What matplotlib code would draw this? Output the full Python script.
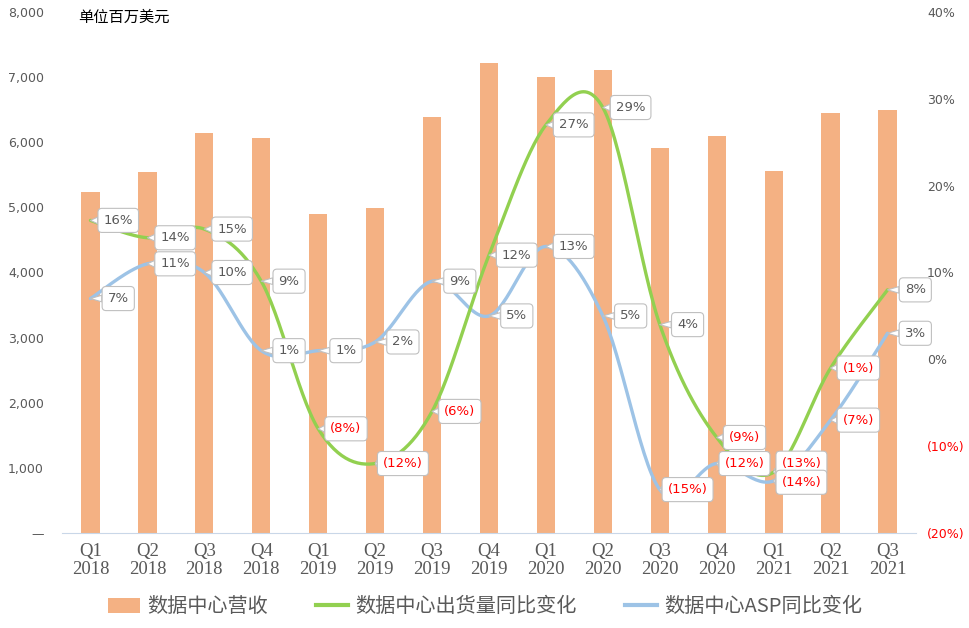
import numpy as np
import matplotlib
matplotlib.use("Agg")
import matplotlib.pyplot as plt
from matplotlib.patches import Patch
from matplotlib.lines import Line2D

quarters = ["Q1\n2018", "Q2\n2018", "Q3\n2018", "Q4\n2018",
            "Q1\n2019", "Q2\n2019", "Q3\n2019", "Q4\n2019",
            "Q1\n2020", "Q2\n2020", "Q3\n2020", "Q4\n2020",
            "Q1\n2021", "Q2\n2021", "Q3\n2021"]
revenue = [5234, 5549, 6138, 6069, 4903, 4983, 6385, 7213,
           6995, 7115, 5906, 6100, 5560, 6452, 6495]
shipment_yoy = [16, 14, 15, 9, -8, -12, -6, 12, 27, 29, 4, -9, -13, -1, 8]
asp_yoy = [7, 11, 10, 1, 1, 2, 9, 5, 13, 5, -15, -12, -14, -7, 3]

left_ticks = [0, 1000, 2000, 3000, 4000, 5000, 6000, 7000, 8000]
right_ticks = [-20, -10, 0, 10, 20, 30, 40]

BAR = "#F4B183"
GREEN = "#92D050"
BLUE = "#9DC3E6"
GRAY = "#595959"
RED = "#FF0000"

CJK = ["Noto Sans CJK SC", "DejaVu Sans"]


def smooth(y, n=30):
    """Catmull-Rom smoothing (like Excel smoothed lines)."""
    y = np.asarray(y, float)
    x = np.arange(len(y), dtype=float)
    px = np.concatenate([[x[0]], x, [x[-1]]])
    py = np.concatenate([[y[0]], y, [y[-1]]])
    xs, ys = [], []
    for i in range(1, len(px) - 2):
        p0x, p1x, p2x, p3x = px[i - 1], px[i], px[i + 1], px[i + 2]
        p0y, p1y, p2y, p3y = py[i - 1], py[i], py[i + 1], py[i + 2]
        c1x, c1y = p1x + (p2x - p0x) / 6, p1y + (p2y - p0y) / 6
        c2x, c2y = p2x - (p3x - p1x) / 6, p2y - (p3y - p1y) / 6
        t = np.linspace(0, 1, n)
        bx = (1 - t) ** 3 * p1x + 3 * (1 - t) ** 2 * t * c1x + 3 * (1 - t) * t ** 2 * c2x + t ** 3 * p2x
        by = (1 - t) ** 3 * p1y + 3 * (1 - t) ** 2 * t * c1y + 3 * (1 - t) * t ** 2 * c2y + t ** 3 * p2y
        xs.append(bx)
        ys.append(by)
    return np.concatenate(xs), np.concatenate(ys)


def pct(v):
    return f"({abs(v)}%)" if v < 0 else f"{v}%"


fig = plt.figure(figsize=(9.7, 6.28), dpi=100)
ax = fig.add_axes([62 / 970, 1 - 533 / 628, (916 - 62) / 970, (533 - 12) / 628])
ax2 = ax.twinx()

x = np.arange(len(quarters))
ax.bar(x, revenue, width=0.32, color=BAR, zorder=1)
ax.set_xlim(-0.5, len(quarters) - 0.5)
ax.set_ylim(0, 8000)
ax.set_yticks(left_ticks)
ax.set_yticklabels(["—" if v == 0 else f"{v:,}" for v in left_ticks],
                   color=GRAY, fontsize=9)
ax.set_xticks(x)
ax.set_xticklabels(quarters, family="Liberation Serif", fontsize=13.5,
                   color=GRAY, linespacing=1.1)
ax.tick_params(axis="both", length=0)
ax.tick_params(axis="y", pad=13)
ax.tick_params(axis="x", pad=7)
for s in ["top", "left", "right"]:
    ax.spines[s].set_visible(False)
    ax2.spines[s].set_visible(False)
ax.spines["bottom"].set_color("#C9D7E8")
ax2.spines["bottom"].set_visible(False)

ax2.set_ylim(-20, 40)
ax2.set_yticks(right_ticks)
ax2.set_yticklabels([pct(v) for v in right_ticks], fontsize=9)
for lbl, v in zip(ax2.get_yticklabels(), right_ticks):
    lbl.set_color(RED if v < 0 else GRAY)
ax2.tick_params(axis="y", length=0, pad=8)

gx, gy = smooth(shipment_yoy)
bx, by = smooth(asp_yoy)
ax2.plot(gx, gy, color=GREEN, lw=2.4, zorder=3, solid_capstyle="round")
ax2.plot(bx, by, color=BLUE, lw=2.4, zorder=2, solid_capstyle="round")

# vertical nudges (points) for crowded labels
nudge = {("g", 12): 6.5, ("b", 12): -1.0}

for key, series in (("g", shipment_yoy), ("b", asp_yoy)):
    for i, v in enumerate(series):
        dy = nudge.get((key, i), 0)
        ax2.annotate(pct(v), xy=(i, v), xytext=(20, dy), textcoords="offset points",
                     ha="center", va="center", fontsize=9.5,
                     color=RED if v < 0 else GRAY, zorder=5,
                     bbox=dict(boxstyle="round,pad=0.42,rounding_size=0.3",
                               fc="white", ec="#C0C0C0", lw=0.8),
                     arrowprops=dict(arrowstyle="wedge,tail_width=0.5,shrink_factor=0.5",
                                     fc="white", ec="#C0C0C0", lw=0.8,
                                     shrinkA=0, shrinkB=0))

fig.text(78 / 970, 1 - 17 / 628, "单位百万美元", family=CJK, fontsize=11,
         color="black", va="center", ha="left")

handles = [Patch(facecolor=BAR, edgecolor="none"),
           Line2D([0], [0], color=GREEN, lw=3),
           Line2D([0], [0], color=BLUE, lw=3)]
labels = ["数据中心营收", "数据中心出货量同比变化", "数据中心ASP同比变化"]
leg = fig.legend(handles, labels, loc="center", bbox_to_anchor=(0.5, 1 - 607 / 628),
                 ncol=3, frameon=False, prop={"family": CJK, "size": 14.5},
                 handlelength=1.6, handletextpad=0.35, columnspacing=2.4)
for t in leg.get_texts():
    t.set_color(GRAY)

fig.savefig("out.png", dpi=100)
